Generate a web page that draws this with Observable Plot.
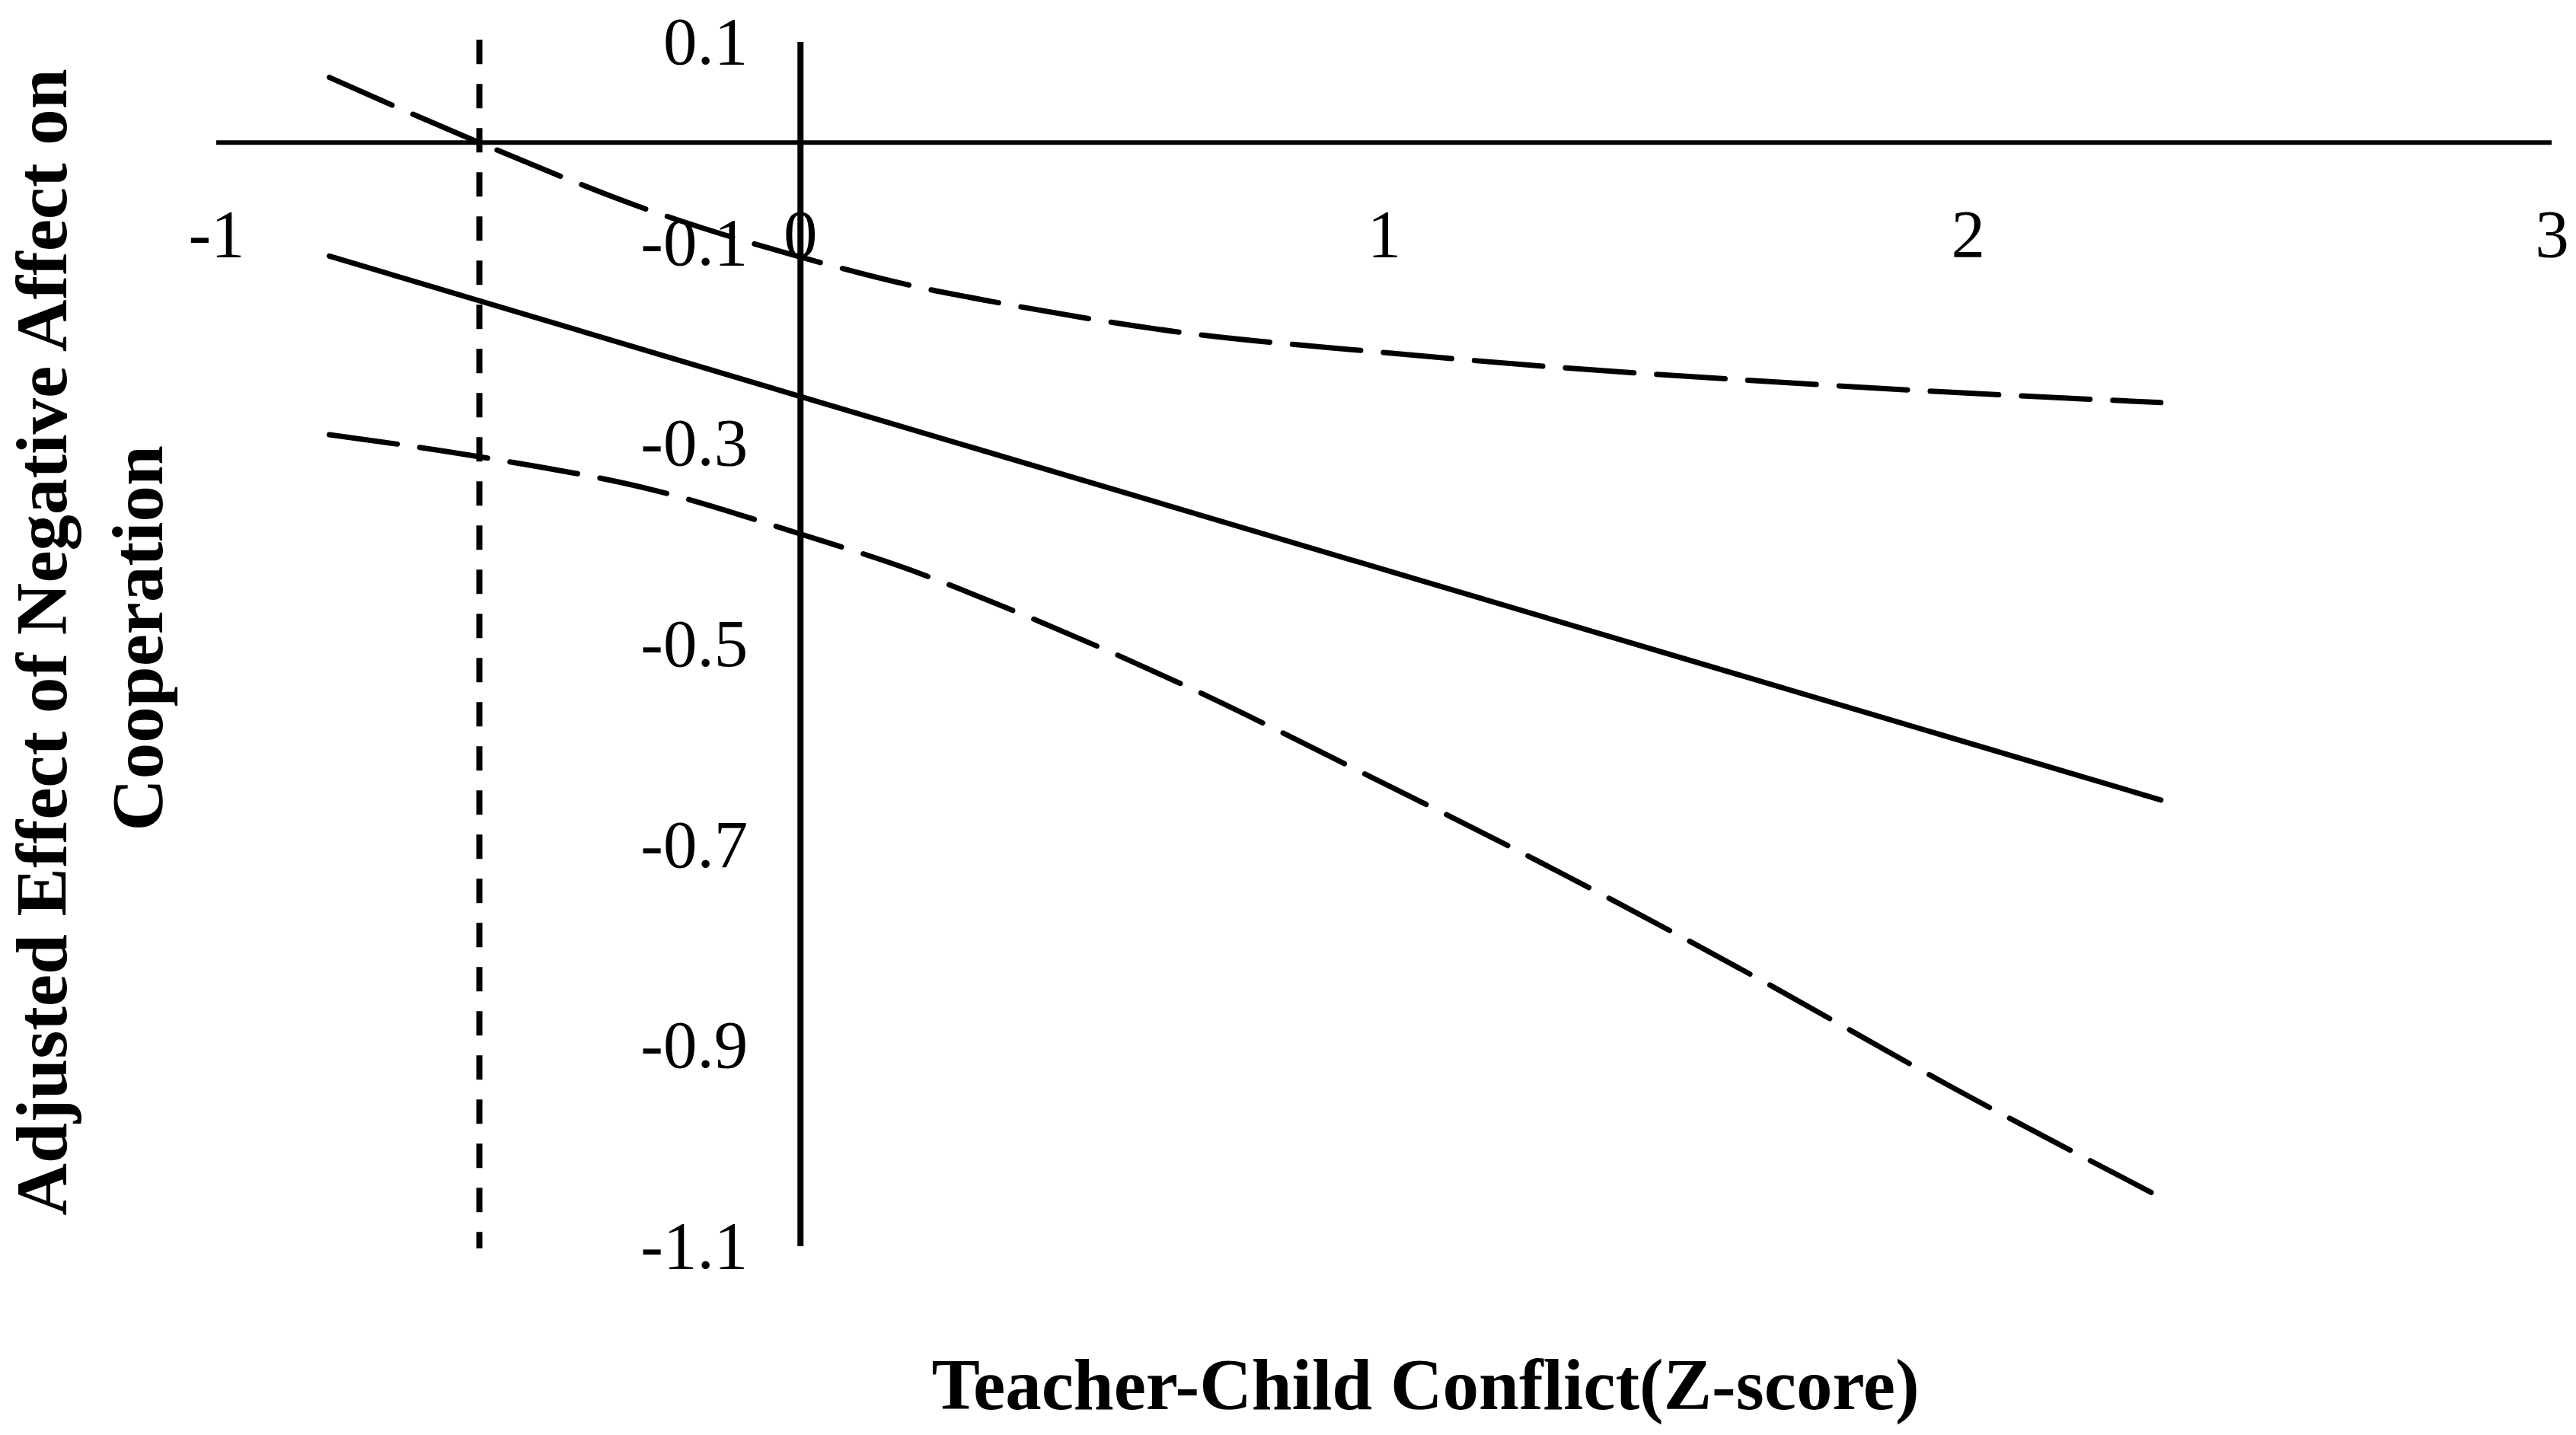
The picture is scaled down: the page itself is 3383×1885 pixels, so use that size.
<!DOCTYPE html>
<html>
<head>
<meta charset="utf-8">
<script src="https://cdn.jsdelivr.net/npm/d3@7"></script>
<script src="https://cdn.jsdelivr.net/npm/@observablehq/plot@0.6"></script>
<style>
  html, body { margin: 0; padding: 0; background: #fff; }
  #chart { position: absolute; left: 0; top: 0; }
</style>
</head>
<body>
<div id="chart"></div>
<script>
// ---- tick values and labels ----
const xTicks = [-1, 0, 1, 2, 3];
const xTickLabels = ["-1", "0", "1", "2", "3"];
const yTicks = [0.1, -0.1, -0.3, -0.5, -0.7, -0.9, -1.1];
const yTickLabels = ["0.1", "-0.1", "-0.3", "-0.5", "-0.7", "-0.9", "-1.1"];

// ---- titles ----
const xTitle = "Teacher-Child Conflict(Z-score)";
const yTitleLines = ["Adjusted Effect of Negative Affect on", "Cooperation"];

// ---- estimated effect (solid line) ----
const estZ = [-0.807, 0, 2.33];
const estEffect = [-0.113, -0.253, -0.655];

// ---- upper confidence band (dashed) ----
const upperZ = [-0.807, -0.55, -0.246, 0, 0.194, 0.325, 0.651, 0.977, 1.30, 1.628, 1.978, 2.33];
const upperCI = [0.065, 0.0, -0.070, -0.114, -0.143, -0.158, -0.189, -0.208, -0.224, -0.237, -0.249, -0.259];

// ---- lower confidence band (dashed) ----
const lowerZ = [-0.807, -0.55, -0.246, 0, 0.194, 0.325, 0.651, 0.977, 1.30, 1.628, 1.978, 2.33];
const lowerCI = [-0.291, -0.313, -0.347, -0.390, -0.427, -0.457, -0.539, -0.632, -0.727, -0.829, -0.943, -1.051];

// ---- Johnson-Neyman boundary (short-dashed vertical) ----
const jnZ = [-0.55];
const jnSpan = [0.102, -1.102];

const toRows = (xs, ys) => xs.map((x, i) => ({conflict: x, effect: ys[i]}));
const serif = '"Liberation Serif", "Times New Roman", Times, serif';

const chart = Plot.plot({
  width: 3383,
  height: 1885,
  marginLeft: 284,
  marginRight: 32,
  marginTop: 55,
  marginBottom: 248,
  x: {domain: [xTicks[0], xTicks[xTicks.length - 1]], axis: null},
  y: {domain: [yTicks[yTicks.length - 1], yTicks[0]], axis: null},
  style: {background: "#fff", fontFamily: serif, color: "#000", overflow: "visible"},
  marks: [
    // horizontal axis at 0
    Plot.ruleY([0], {x1: xTicks[0], x2: xTicks[xTicks.length - 1], stroke: "#000", strokeWidth: 6}),
    // vertical axis at 0
    Plot.ruleX([0], {y1: yTicks[0], y2: yTicks[yTicks.length - 1], stroke: "#000", strokeWidth: 8}),
    // J-N boundary
    Plot.ruleX(jnZ, {y1: jnSpan[0], y2: jnSpan[1], stroke: "#000", strokeWidth: 8, strokeDasharray: "32,26"}),
    // confidence band lines
    Plot.line(toRows(upperZ, upperCI), {x: "conflict", y: "effect", curve: "monotone-x",
      stroke: "#000", strokeWidth: 7, strokeDasharray: "90,30"}),
    Plot.line(toRows(lowerZ, lowerCI), {x: "conflict", y: "effect", curve: "monotone-x",
      stroke: "#000", strokeWidth: 7, strokeDasharray: "90,30"}),
    // estimate
    Plot.line(toRows(estZ, estEffect), {x: "conflict", y: "effect", stroke: "#000", strokeWidth: 7}),
    // x tick labels
    Plot.text(xTicks, {x: d => d, y: () => 0, dy: 121, text: (d, i) => xTickLabels[i],
      fontSize: 89, fill: "#000", lineAnchor: "middle", textAnchor: "middle"}),
    // y tick labels
    Plot.text(yTicks, {x: () => 0, y: d => d, dx: -69, text: (d, i) => yTickLabels[i],
      fontSize: 89, fill: "#000", lineAnchor: "middle", textAnchor: "end"}),
    // x title
    Plot.text([xTitle], {frameAnchor: "bottom", dx: 54, dy: 183, text: d => d,
      fontSize: 95, fontWeight: "bold", fill: "#000", lineAnchor: "middle"}),
    // y title, two lines
    Plot.text([yTitleLines[0]], {frameAnchor: "left", rotate: -90, dx: -228, dy: -3, text: d => d,
      fontSize: 95, fontWeight: "bold", fill: "#000", lineAnchor: "middle", textAnchor: "middle"}),
    Plot.text([yTitleLines[1]], {frameAnchor: "left", rotate: -90, dx: -102, dy: -8, text: d => d,
      fontSize: 95, fontWeight: "bold", fill: "#000", lineAnchor: "middle", textAnchor: "middle"})
  ]
});

document.getElementById("chart").appendChild(chart);
</script>
</body>
</html>
